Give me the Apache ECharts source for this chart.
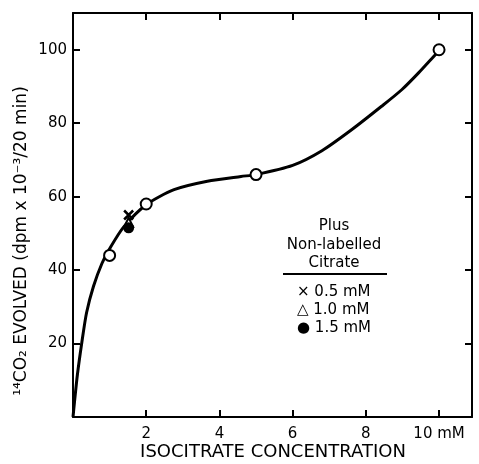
<!DOCTYPE html>
<html>
<head>
<meta charset="utf-8">
<script src="https://cdn.jsdelivr.net/npm/echarts@6/dist/echarts.min.js"></script>
<style>
	html, body { margin: 0; padding: 0; background: #fff; }
	#chart { width: 479px; height: 464px; }
</style>
</head>
<body>
<div id="chart"></div>
<script>
// 测量点（空心圆）
const pointsX = [1, 2, 5, 10];
const pointsY = [44, 58, 66, 100];
// 手绘曲线
const curveX = [0, 0.04, 0.12, 0.24, 0.37, 0.56, 0.79, 1.0, 1.38, 2, 2.76, 3.67, 4.59, 5, 6, 6.8, 7.61, 8.43, 8.98, 9.44, 9.81, 10];
const curveY = [0, 4, 11.5, 20.2, 28.4, 35.6, 41.8, 45.8, 51.7, 57.8, 61.9, 64.2, 65.5, 66, 68.5, 72.5, 78.2, 84.6, 89.1, 93.7, 97.7, 99.8];
// 加入非标记柠檬酸
const citrateX = [1.52, 1.52, 1.52];
const citrateY = [55, 53, 51.5];
const citrateLabels = ['× 0.5 mM', '△ 1.0 mM', '● 1.5 mM'];

const FONT = '"DejaVu Sans"';
const zip = (a, b) => a.map((v, i) => [v, b[i]]);

const chart = echarts.init(document.getElementById('chart'));
const axisLine = { show: true, onZero: false, lineStyle: { color: '#000', width: 2 } };
const tick = { show: true, inside: true, length: 7, lineStyle: { color: '#000', width: 2 } };

const option = {
	animation: false,
	grid: { left: 73, right: 7, top: 13, bottom: 47 },
	xAxis: [{
		type: 'value', min: 0, max: 10.9, interval: 2,
		axisLine: axisLine, axisTick: tick, splitLine: { show: false },
		axisLabel: {
			color: '#000', fontFamily: 'DejaVu Sans', fontSize: 15, margin: 10,
			showMaxLabel: false,
			formatter: v => v === 0 ? '' : (v === 10 ? '10 mM' : String(v))
		}
	}, {
		type: 'value', position: 'top', min: 0, max: 10.9, interval: 2,
		axisLine: axisLine, axisTick: tick, axisLabel: { show: false }, splitLine: { show: false }
	}],
	yAxis: [{
		type: 'value', min: 0, max: 110, interval: 20,
		axisLine: axisLine, axisTick: tick, splitLine: { show: false },
		axisLabel: {
			color: '#000', fontFamily: 'DejaVu Sans', fontSize: 15, margin: 6,
			showMaxLabel: false,
			formatter: v => v === 0 ? '' : String(v)
		}
	}, {
		type: 'value', position: 'right', min: 0, max: 110, interval: 20,
		axisLine: axisLine, axisTick: tick, axisLabel: { show: false }, splitLine: { show: false }
	}],
	series: [{
		type: 'line',
		data: zip(curveX, curveY),
		smooth: 0.25,
		showSymbol: false,
		lineStyle: { color: '#000', width: 3 },
		z: 2
	}, {
		type: 'scatter',
		data: zip(pointsX, pointsY),
		symbol: 'circle', symbolSize: 11,
		itemStyle: { color: '#fff', borderColor: '#000', borderWidth: 2, opacity: 1 },
		z: 5
	}, {
		type: 'scatter',
		data: [zip(citrateX, citrateY)[1]],
		symbol: 'triangle', symbolSize: 9,
		itemStyle: { color: '#fff', borderColor: '#000', borderWidth: 2, opacity: 1 },
		z: 4
	}, {
		type: 'scatter',
		data: [zip(citrateX, citrateY)[2]],
		symbol: 'circle', symbolSize: 11,
		itemStyle: { color: '#000', opacity: 1 },
		z: 4
	}, {
		type: 'scatter',
		data: [zip(citrateX, citrateY)[0]],
		symbol: 'path://M0,0L10,10M10,0L0,10', symbolSize: 9,
		itemStyle: { color: 'none', borderColor: '#000', borderWidth: 2.5, opacity: 1 },
		z: 6
	}],
	graphic: [
		// y轴标题
		{ type: 'text', x: 22, y: 241, rotation: Math.PI / 2,
			style: { text: '¹⁴CO₂ EVOLVED (dpm x 10⁻³/20 min)', fill: '#000', font: '17px ' + FONT, align: 'center', verticalAlign: 'middle' } },
		// x轴标题
		{ type: 'text', x: 273, y: 452,
			style: { text: 'ISOCITRATE CONCENTRATION', fill: '#000', font: '18px ' + FONT, align: 'center', verticalAlign: 'middle' } },
		// 图例
		{ type: 'text', x: 334, y: 226, style: { text: 'Plus', fill: '#000', font: '15px ' + FONT, align: 'center', verticalAlign: 'middle' } },
		{ type: 'text', x: 334, y: 245, style: { text: 'Non-labelled', fill: '#000', font: '15px ' + FONT, align: 'center', verticalAlign: 'middle' } },
		{ type: 'text', x: 334, y: 263, style: { text: 'Citrate', fill: '#000', font: '15px ' + FONT, align: 'center', verticalAlign: 'middle' } },
		{ type: 'line', shape: { x1: 283, y1: 274, x2: 387, y2: 274 }, style: { stroke: '#000', lineWidth: 2 } },
		{ type: 'text', x: 297, y: 292, style: { text: citrateLabels[0], fill: '#000', font: '15px ' + FONT, verticalAlign: 'middle' } },
		{ type: 'text', x: 297, y: 310, style: { text: citrateLabels[1], fill: '#000', font: '15px ' + FONT, verticalAlign: 'middle' } },
		{ type: 'text', x: 297, y: 328, style: { text: citrateLabels[2], fill: '#000', font: '15px ' + FONT, verticalAlign: 'middle' } }
	]
};
chart.setOption(option);
</script>
</body>
</html>
